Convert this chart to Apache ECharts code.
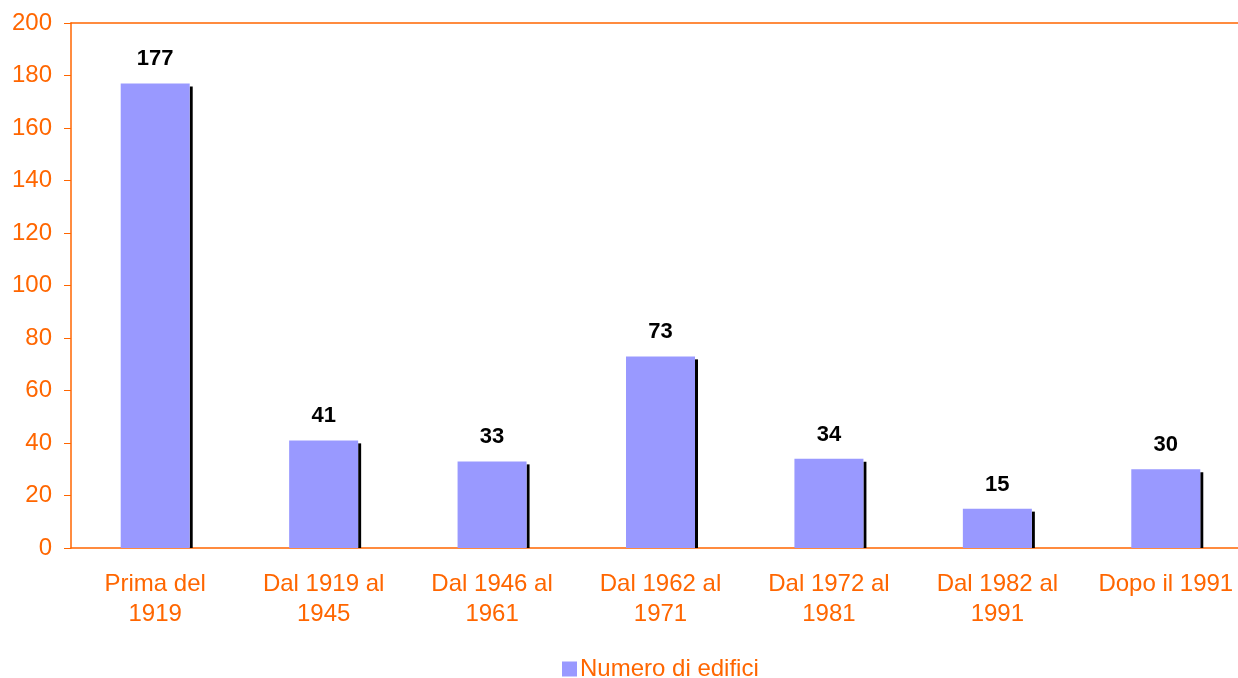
<!DOCTYPE html>
<html>
<head>
<meta charset="utf-8">
<script src="https://cdn.jsdelivr.net/npm/echarts@6/dist/echarts.min.js"></script>
<style>
  html, body { margin: 0; padding: 0; background: #fff; }
  #main { width: 1238px; height: 678px; }
</style>
</head>
<body>
<div id="main"></div>
<script>
var myChart = echarts.init(document.getElementById('main'));

// periodi di costruzione
const categories = ['Prima del\n1919', 'Dal 1919 al\n1945', 'Dal 1946 al\n1961', 'Dal 1962 al\n1971', 'Dal 1972 al\n1981', 'Dal 1982 al\n1991', 'Dopo il 1991'];
const edifici = [177, 41, 33, 73, 34, 15, 30];
const seriesName = 'Numero di edifici';

const orange = '#FF6600';
const barW = 69;

option = {
    animation: false,
    textStyle: { fontFamily: 'Liberation Sans, Arial, sans-serif' },
    grid: { left: 71, top: 23, width: 1179, height: 525, outerBoundsMode: 'none', containLabel: false },
    legend: {
        left: 557,
        top: 652,
        itemWidth: 15,
        itemHeight: 15,
        icon: 'rect',
        data: [seriesName],
        textStyle: { color: orange, fontSize: 24, padding: [0, 0, 0, -2] }
    },
    xAxis: [{
        type: 'category',
        data: categories,
        axisLine: { lineStyle: { color: orange, width: 1.5 } },
        axisTick: { length: 7, lineStyle: { color: '#FF9955' } },
        axisLabel: { color: orange, fontSize: 24, lineHeight: 30, margin: 21, interval: 0 }
    }, {
        type: 'category',
        position: 'top',
        data: categories,
        axisLine: { lineStyle: { color: orange, width: 1.5 } },
        axisTick: { show: false },
        axisLabel: { show: false }
    }],
    yAxis: {
        type: 'value',
        min: 0,
        max: 200,
        interval: 20,
        axisLine: { show: true, lineStyle: { color: orange, width: 1.5 } },
        axisTick: { show: true, length: 7, lineStyle: { color: orange } },
        axisLabel: { color: orange, fontSize: 24, margin: 19 },
        splitLine: { show: false }
    },
    series: [
        {
            // ombra nera a destra delle barre
            type: 'custom',
            silent: true,
            z: 1,
            data: edifici.map((v, i) => [i, v]),
            renderItem: function (params, api) {
                const top = api.coord([api.value(0), api.value(1)]);
                const base = api.coord([api.value(0), 0]);
                return {
                    type: 'rect',
                    shape: { x: top[0] + barW / 2, y: top[1] + 3, width: 3, height: base[1] - top[1] - 3 },
                    style: { fill: '#000' }
                };
            }
        },
        {
            name: seriesName,
            type: 'bar',
            z: 2,
            barWidth: barW,
            data: edifici,
            itemStyle: { color: '#9999FF' },
            label: {
                show: true,
                position: 'top',
                distance: 13,
                color: '#000',
                fontWeight: 'bold',
                fontSize: 22
            }
        }
    ]
};

myChart.setOption(option);
</script>
</body>
</html>
